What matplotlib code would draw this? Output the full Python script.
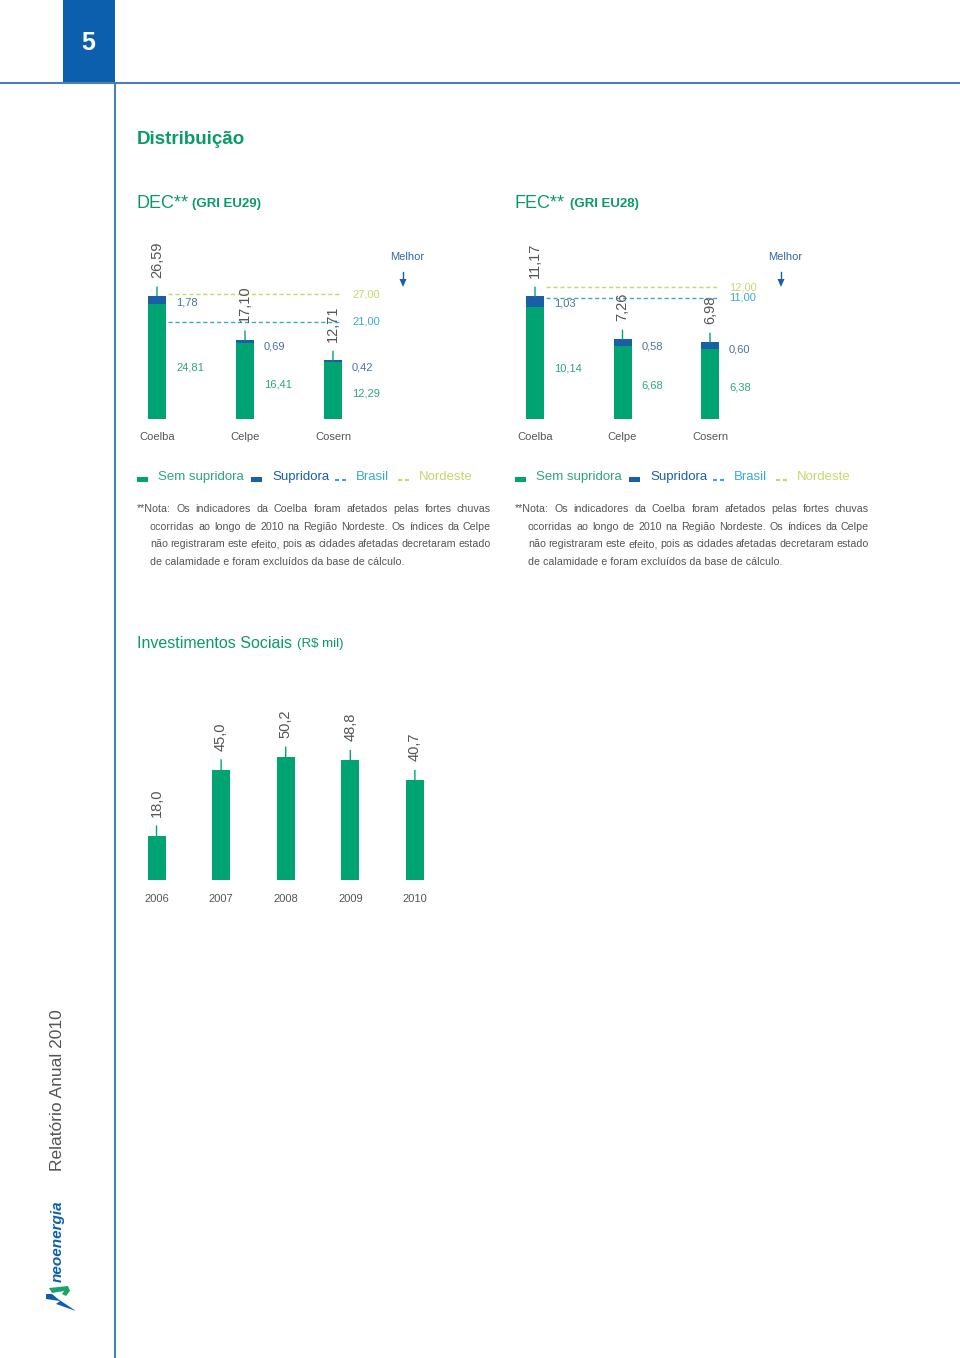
import numpy as np
import matplotlib
matplotlib.use("Agg")
import matplotlib.pyplot as plt
from matplotlib.patches import Rectangle, Polygon

# data
companies = ["Coelba", "Celpe", "Cosern"]
dec_sem = [24.81, 16.41, 12.29]
dec_sup = [1.78, 0.69, 0.42]
dec_brasil = 21.00
dec_nordeste = 27.00
fec_sem = [10.14, 6.68, 6.38]
fec_sup = [1.03, 0.58, 0.60]
fec_brasil = 11.00
fec_nordeste = 12.00
years = ["2006", "2007", "2008", "2009", "2010"]
invest = [18.0, 45.0, 50.2, 48.8, 40.7]

note_lines = [
    "**Nota: Os indicadores da Coelba foram afetados pelas fortes chuvas",
    "ocorridas ao longo de 2010 na Região Nordeste. Os índices da Celpe",
    "não registraram este efeito, pois as cidades afetadas decretaram estado",
    "de calamidade e foram excluídos da base de cálculo.",
]

GREEN = "#00a472"
BLUE = "#1b5ea8"
LGREEN = "#2ea57b"
SLATE = "#4a72a0"
BRASIL = "#3aa9cf"
NORD = "#c5d86d"
GRAY = "#555555"
RULE = "#4d7fb5"
SANS = ["Liberation Sans", "DejaVu Sans"]

W, H = 960, 1358
fig = plt.figure(figsize=(W / 100, H / 100), dpi=100)
r = fig.canvas.get_renderer()


def fx(x):
    return x / W


def fy(y):
    return 1 - y / H


def px_axes(x0, y0, x1, y1):
    return fig.add_axes([fx(x0), fy(y1), (x1 - x0) / W, (y1 - y0) / H])


def fmt(v, d=2):
    return f"{v:.{d}f}".replace(".", ",")


# page frame
fig.add_artist(Rectangle((fx(63), fy(83)), 52 / W, 83 / H, transform=fig.transFigure,
                         color="#0b5fad", lw=0))
fig.text(fx(88), fy(43), "5", color="white", fontsize=18, fontweight="bold",
         family=SANS, ha="center", va="center")
fig.add_artist(plt.Line2D([0, 1], [fy(83), fy(83)], transform=fig.transFigure, color=RULE, lw=1.5))
fig.add_artist(plt.Line2D([fx(115), fx(115)], [fy(83), 0], transform=fig.transFigure, color=RULE, lw=1.5))

fig.text(fx(137), fy(140), "Distribuição", color="#0a9a6a", fontsize=13.5, fontweight="bold",
         family=SANS, va="center")


def panel(x0, title, sub, sem, sup, brasil, nordeste, scale, xstep):
    fig.text(fx(x0), fy(203), title, color="#0a9a6a", fontsize=13, family=SANS, va="center")
    fig.text(fx(x0 + 55), fy(204), sub, color="#0a9a6a", fontsize=9.5, fontweight="bold",
             family=SANS, va="center")

    ax = px_axes(x0 - 7, 230, x0 - 7 + 330, 419)
    x = np.arange(len(companies))
    sem = np.array(sem)
    sup = np.array(sup)
    tot = sem + sup
    bw = 18 / xstep
    ax.bar(x, sem, bw, color=GREEN, lw=0)
    ax.bar(x, sup, bw, bottom=sem, color=BLUE, lw=0)
    ax.set_xlim(-27 / xstep, -27 / xstep + 330 / xstep)
    ax.set_ylim(0, 189 / scale)
    ax.axis("off")

    x_a, x_b = 0.12, 2.09
    ax.hlines(nordeste, x_a, x_b, color=NORD, lw=1, linestyles=(0, (3, 2)))
    ax.hlines(brasil, x_a, x_b, color=BRASIL, lw=1, linestyles=(0, (3, 2)))
    ax.text(2.22, nordeste, fmt(nordeste), color=NORD, fontsize=8, family=SANS, va="center")
    ax.text(2.22, brasil, fmt(brasil), color=BRASIL, fontsize=8, family=SANS, va="center")

    for xi, s, p, t, name in zip(x, sem, sup, tot, companies):
        ax.annotate("", xy=(xi, t), xytext=(0, 9), textcoords="offset pixels",
                    arrowprops=dict(arrowstyle="-", color=GREEN, lw=1, shrinkA=0, shrinkB=0))
        ax.annotate(fmt(t), xy=(xi, t), xytext=(0, 18), textcoords="offset pixels",
                    rotation=90, ha="center", va="bottom", fontsize=10.5, color=GRAY, family=SANS)
        ax.annotate(fmt(p), xy=(xi, t), xytext=(19, -7), textcoords="offset pixels",
                    ha="left", va="center", fontsize=8, color=SLATE, family=SANS)
        ax.annotate(fmt(s), xy=(xi, s * 0.45), xytext=(19, 0), textcoords="offset pixels",
                    ha="left", va="center", fontsize=8, color=LGREEN, family=SANS)
        ax.annotate(name, xy=(xi, 0), xytext=(0, -18), textcoords="offset pixels",
                    ha="center", va="center", fontsize=8, color=GRAY, family=SANS)

    # melhor
    fig.text(fx(x0 + 270), fy(257), "Melhor", color="#2e6aa0", fontsize=8, family=SANS,
             ha="center", va="center")
    fig.add_artist(plt.Line2D([fx(x0 + 266)] * 2, [fy(272), fy(281)], transform=fig.transFigure,
                              color="#1b5ea8", lw=1))
    fig.add_artist(Polygon([(fx(x0 + 262.5), fy(279)), (fx(x0 + 269.5), fy(279)), (fx(x0 + 266), fy(287))],
                           closed=True, transform=fig.transFigure, color="#1b5ea8", lw=0))

    # legend row
    y = 477
    kw = dict(fontsize=9.5, family=SANS, va="center")
    fig.add_artist(Rectangle((fx(x0), fy(482)), 11 / W, 5 / H, transform=fig.transFigure, color=GREEN, lw=0))
    fig.text(fx(x0 + 21), fy(y), "Sem supridora", color=LGREEN, **kw)
    fig.add_artist(Rectangle((fx(x0 + 114), fy(482)), 11 / W, 5 / H, transform=fig.transFigure, color=BLUE, lw=0))
    fig.text(fx(x0 + 135), fy(y), "Supridora", color=BLUE, **kw)
    fig.add_artist(plt.Line2D([fx(x0 + 198), fx(x0 + 209)], [fy(480), fy(480)], transform=fig.transFigure,
                              color=BRASIL, lw=1.5, ls=(0, (1.92, 1.44))))
    fig.text(fx(x0 + 219), fy(y), "Brasil", color=BRASIL, **kw)
    fig.add_artist(plt.Line2D([fx(x0 + 261), fx(x0 + 272)], [fy(480), fy(480)], transform=fig.transFigure,
                              color=NORD, lw=1.5, ls=(0, (1.92, 1.44))))
    fig.text(fx(x0 + 282), fy(y), "Nordeste", color=NORD, **kw)

    # note, justified
    for i, line in enumerate(note_lines):
        xs = x0 if i == 0 else x0 + 13
        yy = 512 + i * 17.7
        kw = dict(color=GRAY, fontsize=7.7, family=SANS, va="baseline")
        if i == len(note_lines) - 1:
            fig.text(fx(xs), fy(yy), line, **kw)
            continue
        words = line.split()
        ts = [fig.text(0, 0, w, **kw) for w in words]
        ws = [t.get_window_extent(r).width for t in ts]
        gap = (x0 + 354 - xs - sum(ws)) / (len(words) - 1)
        xc = xs
        for t, w in zip(ts, ws):
            t.set_position((fx(xc), fy(yy)))
            xc += w + gap


panel(137, "DEC**", "(GRI EU29)", dec_sem, dec_sup, dec_brasil, dec_nordeste, 4.626, 88)
panel(515, "FEC**", "(GRI EU28)", fec_sem, fec_sup, fec_brasil, fec_nordeste, 11.0, 87.5)

# investimentos sociais
t1 = fig.text(fx(137), fy(643), "Investimentos Sociais", color="#0a9a6a", fontsize=11.5,
              family=SANS, va="center")
x_end = 137 + t1.get_window_extent(r).width
fig.text(fx(x_end + 5), fy(644), "(R$ mil)", color="#0a9a6a", fontsize=9.5, family=SANS, va="center")

ax = px_axes(130, 690, 460, 880)
xi = np.arange(len(years))
step = 64.6
ax.bar(xi, invest, 18 / step, color=GREEN, lw=0)
ax.set_xlim(-26.5 / step, -26.5 / step + 330 / step)
ax.set_ylim(0, 190 / 2.45)
ax.axis("off")
for x, v, yr in zip(xi, invest, years):
    ax.annotate("", xy=(x, v), xytext=(0, 10), textcoords="offset pixels",
                arrowprops=dict(arrowstyle="-", color=GREEN, lw=1, shrinkA=0, shrinkB=0))
    ax.annotate(fmt(v, 1), xy=(x, v), xytext=(0, 19), textcoords="offset pixels",
                rotation=90, ha="center", va="bottom", fontsize=10.5, color=GRAY, family=SANS)
    ax.annotate(yr, xy=(x, 0), xytext=(0, -19), textcoords="offset pixels",
                ha="center", va="center", fontsize=8, color=GRAY, family=SANS)

# side texts
fig.text(fx(58), fy(1090), "Relatório Anual 2010", rotation=90, color=GRAY, fontsize=12.5,
         family=SANS, ha="center", va="center")
fig.text(fx(58), fy(1241), "neoenergia", rotation=90, color="#0b5fad", fontsize=11,
         fontweight="bold", fontstyle="italic", family=SANS, ha="center", va="center")
# logo mark
fig.add_artist(Polygon([(fx(49), fy(1288)), (fx(68), fy(1286)), (fx(70), fy(1291)), (fx(66), fy(1296)),
                        (fx(62), fy(1294)), (fx(64), fy(1291)), (fx(52), fy(1293))],
                       closed=True, transform=fig.transFigure, color="#1aa36b", lw=0))
fig.add_artist(Polygon([(fx(46), fy(1294)), (fx(52), fy(1294)), (fx(58), fy(1299)), (fx(76), fy(1311)),
                        (fx(56), fy(1304)), (fx(60), fy(1301)), (fx(46), fy(1299))],
                       closed=True, transform=fig.transFigure, color="#0b5fad", lw=0))

fig.savefig("out.png", dpi=100)
